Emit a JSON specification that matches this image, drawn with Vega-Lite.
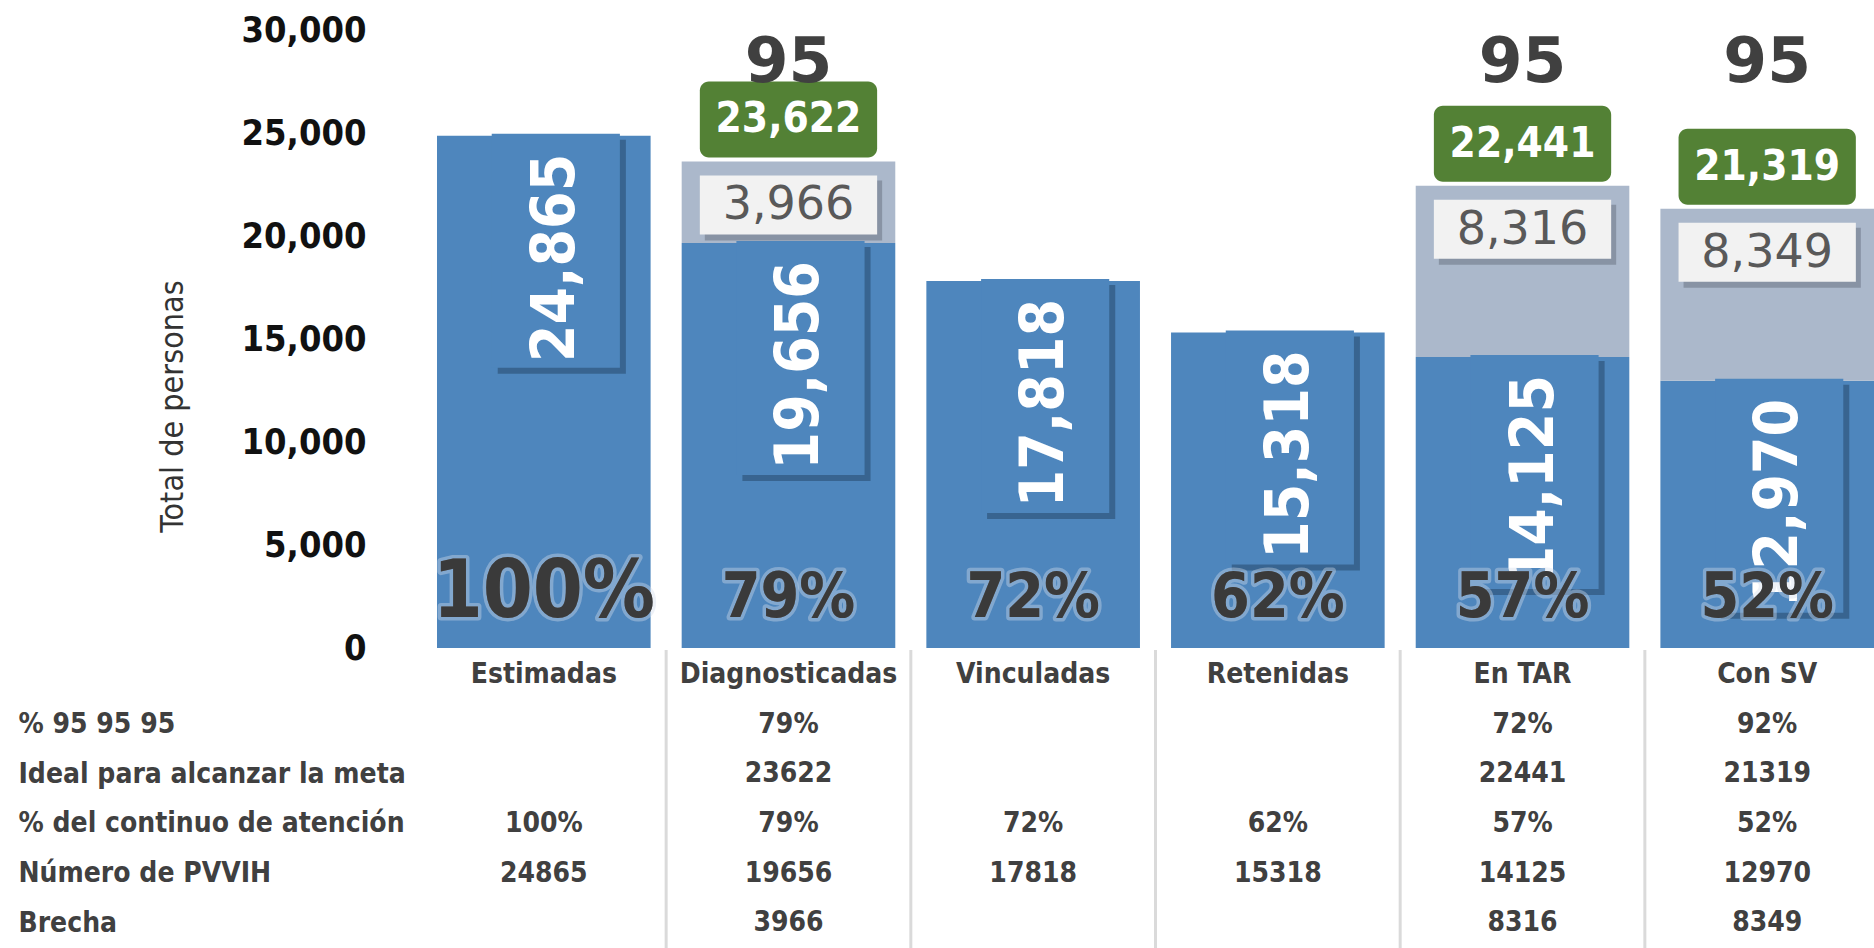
{
  "$schema": "https://vega.github.io/schema/vega-lite/v6.json",
  "autosize": {"type": "pad"},
  "padding": {"left": 18, "top": 12, "right": 0, "bottom": 0},
  "background": "white",
  "config": {"view": {"stroke": null}, "font": "DejaVu Sans Condensed"},
  "bounds": "flush",
  "spacing": 2,
  "datasets": {
    "cascada": [
      {"cat": "Estimadas", "valor": 24865, "pct": "100%", "p95": null, "ideal": null, "brecha": null, "meta": null},
      {"cat": "Diagnosticadas", "valor": 19656, "pct": "79%", "p95": "79%", "ideal": 23622, "brecha": 3966, "meta": 95},
      {"cat": "Vinculadas", "valor": 17818, "pct": "72%", "p95": null, "ideal": null, "brecha": null, "meta": null},
      {"cat": "Retenidas", "valor": 15318, "pct": "62%", "p95": null, "ideal": null, "brecha": null, "meta": null},
      {"cat": "En TAR", "valor": 14125, "pct": "57%", "p95": "72%", "ideal": 22441, "brecha": 8316, "meta": 95},
      {"cat": "Con SV", "valor": 12970, "pct": "52%", "p95": "92%", "ideal": 21319, "brecha": 8349, "meta": 95}
    ]
  },
  "vconcat": [
    {
      "width": 1437,
      "height": 618,
      "data": {"name": "cascada"},
      "encoding": {
        "x": {"field": "cat", "type": "nominal", "sort": null,
              "scale": {"domain": ["Estimadas", "Diagnosticadas", "Vinculadas", "Retenidas", "En TAR", "Con SV"], "paddingInner": 0.127, "paddingOuter": 0},
              "axis": null}
      },
      "layer": [
        {
          "mark": {"type": "bar", "color": "#4E86BD"},
          "encoding": {
            "y": {"field": "valor", "type": "quantitative",
                  "scale": {"domain": [0, 30000], "nice": false},
                  "axis": {"values": [0, 5000, 10000, 15000, 20000, 25000, 30000], "format": ",.0f", "grid": false, "ticks": false, "tickSize": 0, "domain": false,
                           "labelPadding": 71, "labelFont": "DejaVu Sans Condensed", "labelFontWeight": "bold", "labelFontSize": 36, "labelColor": "#111111", "labelLimit": 0, "labelOverlap": false, "labelBound": false,
                           "title": "Total de personas", "titleFont": "DejaVu Sans Condensed", "titleFontWeight": "normal", "titleFontSize": 32, "titleColor": "#333333", "titlePadding": 52, "titleY": 376}}
          }
        },
        {
          "transform": [{"filter": "datum.ideal != null"}],
          "mark": {"type": "bar", "color": "#ABB8CB"},
          "encoding": {"y": {"field": "valor", "type": "quantitative"}, "y2": {"field": "ideal"}}
        },
        {
          "mark": {"type": "bar", "color": "#27486B", "opacity": 0.55, "width": {"band": 0.6}, "xOffset": 18, "yOffset": 4, "y2Offset": 238},
          "encoding": {"y": {"field": "valor", "type": "quantitative"}, "y2": {"field": "valor"}}
        },
        {
          "mark": {"type": "bar", "color": "#4E86BD", "width": {"band": 0.6}, "xOffset": 12, "yOffset": -2, "y2Offset": 232},
          "encoding": {"y": {"field": "valor", "type": "quantitative"}, "y2": {"field": "valor"}}
        },
        {
          "mark": {"type": "text", "angle": 270, "align": "right", "baseline": "middle", "dx": -18, "dy": 12, "font": "DejaVu Sans Condensed", "fontWeight": "bold", "fontSize": 60, "color": "white"},
          "encoding": {"y": {"field": "valor", "type": "quantitative"}, "text": {"field": "valor", "type": "quantitative", "format": ","}}
        },
        {
          "mark": {"type": "text", "baseline": "alphabetic", "dy": -31, "font": "DejaVu Sans Condensed", "fontWeight": "bold", "stroke": "#D2DDEA", "strokeWidth": 7, "strokeOpacity": 0.4, "strokeJoin": "round", "color": "#3A3A3A"},
          "encoding": {"y": {"datum": 0, "type": "quantitative"}, "text": {"field": "pct"},
                       "size": {"condition": {"test": "datum.cat === 'Estimadas'", "value": 80}, "value": 62}}
        },
        {
          "mark": {"type": "text", "baseline": "alphabetic", "dy": -31, "font": "DejaVu Sans Condensed", "fontWeight": "bold", "color": "#3A3A3A"},
          "encoding": {"y": {"datum": 0, "type": "quantitative"}, "text": {"field": "pct"},
                       "size": {"condition": {"test": "datum.cat === 'Estimadas'", "value": 80}, "value": 62}}
        },
        {
          "transform": [{"filter": "datum.ideal != null"}],
          "mark": {"type": "bar", "color": "#538135", "cornerRadius": 9, "width": {"band": 0.83}, "yOffset": -80, "y2Offset": -4},
          "encoding": {"y": {"field": "ideal", "type": "quantitative"}, "y2": {"field": "ideal"}}
        },
        {
          "transform": [{"filter": "datum.ideal != null"}],
          "mark": {"type": "text", "baseline": "middle", "dy": -42, "font": "DejaVu Sans Condensed", "fontWeight": "bold", "fontSize": 42, "color": "white"},
          "encoding": {"y": {"field": "ideal", "type": "quantitative"}, "text": {"field": "ideal", "type": "quantitative", "format": ","}}
        },
        {
          "transform": [{"filter": "datum.brecha != null"}],
          "mark": {"type": "bar", "color": "#6B7585", "opacity": 0.55, "width": {"band": 0.83}, "xOffset": 5, "yOffset": 19, "y2Offset": 79},
          "encoding": {"y": {"field": "ideal", "type": "quantitative"}, "y2": {"field": "ideal"}}
        },
        {
          "transform": [{"filter": "datum.brecha != null"}],
          "mark": {"type": "bar", "color": "#F2F2F2", "width": {"band": 0.83}, "yOffset": 14, "y2Offset": 73},
          "encoding": {"y": {"field": "ideal", "type": "quantitative"}, "y2": {"field": "ideal"}}
        },
        {
          "transform": [{"filter": "datum.brecha != null"}],
          "mark": {"type": "text", "baseline": "middle", "dy": 44, "font": "DejaVu Sans", "fontWeight": "normal", "fontSize": 46, "color": "#595959"},
          "encoding": {"y": {"field": "ideal", "type": "quantitative"}, "text": {"field": "brecha", "type": "quantitative", "format": ","}}
        },
        {
          "transform": [{"filter": "datum.meta != null"}],
          "mark": {"type": "text", "baseline": "middle", "font": "DejaVu Sans", "fontWeight": "bold", "fontSize": 63, "color": "#404040"},
          "encoding": {"y": {"datum": 28400, "type": "quantitative"}, "text": {"field": "meta", "type": "nominal"}}
        }
      ]
    },
    {
      "width": 1437,
      "height": 298,
      "data": {"name": "cascada"},
      "layer": [
        {
          "mark": {"type": "rule", "color": "#DADADA", "strokeWidth": 3},
          "encoding": {
            "x": {"field": "cat", "type": "nominal", "sort": null, "bandPosition": -0.0727,
                  "scale": {"domain": ["Estimadas", "Diagnosticadas", "Vinculadas", "Retenidas", "En TAR", "Con SV"], "paddingInner": 0.127, "paddingOuter": 0},
                  "axis": null},
            "strokeOpacity": {"condition": {"test": "datum.cat === 'Estimadas'", "value": 0}, "value": 1}
          }
        },
        {
          "transform": [
            {"fold": ["cat", "p95", "ideal", "pct", "valor", "brecha"], "as": ["fila", "texto"]},
            {"filter": "datum.texto != null"}
          ],
          "mark": {"type": "text", "baseline": "middle", "font": "DejaVu Sans Condensed", "fontWeight": "bold", "fontSize": 28, "color": "#404040"},
          "encoding": {
            "x": {"field": "cat", "type": "nominal", "sort": null, "axis": null},
            "y": {"field": "fila", "type": "nominal",
                  "scale": {"domain": ["cat", "p95", "ideal", "pct", "valor", "brecha"]},
                  "axis": {"title": null, "labelAlign": "left", "labelPadding": 419, "ticks": false, "tickSize": 0, "domain": false, "grid": false,
                           "labelFont": "DejaVu Sans Condensed", "labelFontWeight": "bold", "labelFontSize": 28, "labelColor": "#404040", "labelLimit": 0, "labelOverlap": false,
                           "labelExpr": "datum.value == 'p95' ? '% 95 95 95' : datum.value == 'ideal' ? 'Ideal para alcanzar la meta' : datum.value == 'pct' ? '% del continuo de atención' : datum.value == 'valor' ? 'Número de PVVIH' : datum.value == 'brecha' ? 'Brecha' : ''"}},
            "text": {"field": "texto", "type": "nominal"}
          }
        }
      ]
    }
  ]
}
